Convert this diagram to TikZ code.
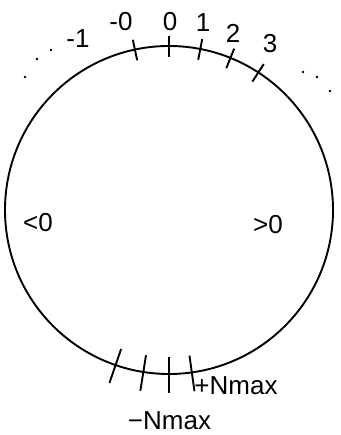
\documentclass[tikz,border=0pt]{standalone}
\usepackage{fontspec}
\setmainfont{Liberation Sans}
\usetikzlibrary{calc}
\begin{document}
\begin{tikzpicture}[x=1pt,y=1pt,
  lbl/.style={inner sep=0pt,font=\fontsize{26}{30}\selectfont},
  ring/.style={line width=1.9pt},
  tk/.style={line width=1.9pt},
  dotmark/.style={fill=black,draw=none}]
\useasboundingbox (0,0) rectangle (340,435);
\coordinate (c) at (169,225);
\draw[ring] (c) circle[radius=164];
% top ticks
\foreach \a/\n in {102/tm0,90/t0,79/t1,68/t2,57/t3}{
  \coordinate (\n a) at ($(c)+(\a:153)$);
  \coordinate (\n b) at ($(c)+(\a:174)$);
  \draw[tk] (\n a) -- (\n b);
}
% bottom ticks
\foreach \a/\n in {251/b1,261/b2,270/b3,278/b4}{
  \coordinate (\n a) at ($(c)+(\a:147)$);
  \coordinate (\n b) at ($(c)+(\a:183)$);
  \draw[tk] (\n a) -- (\n b);
}
\node[lbl] (lm1) at (78,396) {-1};
\node[lbl] (lm0) at (121,413) {-0};
\node[lbl] (l0) at (170,413) {0};
\node[lbl] (l1) at (203,412) {1};
\node[lbl] (l2) at (233,402) {2};
\node[lbl] (l3) at (270,391) {3};
\node[lbl] (neg) at (38,212) {<0};
\node[lbl] (pos) at (268,210) {>0};
\node[lbl] (pmax) at (236,49) {+Nmax};
\node[lbl] (nmax) at (169.5,14) {−Nmax};
% dots
\foreach \p in {(25,358),(37,376),(51,385),(303,363),(317,358),(330,344)}{
  \fill[dotmark] \p circle[radius=1.4];
}
\end{tikzpicture}
\end{document}
